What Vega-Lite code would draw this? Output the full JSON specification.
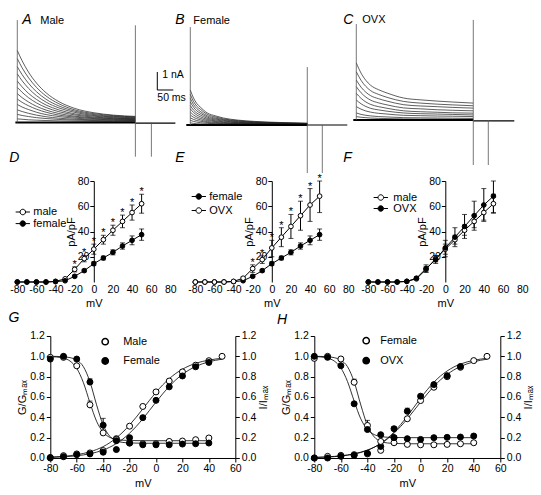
{
"$schema":"https://vega.github.io/schema/vega-lite/v6.json",
"padding":{"left":8.3,"top":5,"right":0,"bottom":0},
"autosize":{"type":"pad"},
"background":"white",
"config":{
 "view":{"stroke":null},
 "font":"Liberation Sans",
 "text":{"font":"Liberation Sans","color":"black"},
 "axis":{"labelFont":"Liberation Sans","titleFont":"Liberation Sans","labelFontSize":10.5,"titleFontSize":11,"titleFontWeight":"normal","labelColor":"black","titleColor":"black","domainColor":"black","tickColor":"black","grid":false,"domainWidth":1,"tickWidth":1,"labelOverlap":false,"labelFlush":false,"labelBound":false,"tickCount":50},
 "legend":{"labelFont":"Liberation Sans","labelFontSize":11,"labelColor":"black","padding":0,"offset":0}
},
"datasets":{
"tr":[
{"p":"A","k":1,"t":0,"v":4.0},{"p":"A","k":1,"t":15,"v":3.43},{"p":"A","k":1,"t":35,"v":2.8},{"p":"A","k":1,"t":60,"v":2.19},{"p":"A","k":1,"t":90,"v":1.65},{"p":"A","k":1,"t":130,"v":1.16},{"p":"A","k":1,"t":180,"v":0.78},{"p":"A","k":1,"t":240,"v":0.54},{"p":"A","k":1,"t":300,"v":0.41},{"p":"A","k":1,"t":369,"v":0.34},
{"p":"A","k":2,"t":0,"v":3.55},{"p":"A","k":2,"t":15,"v":3.04},{"p":"A","k":2,"t":35,"v":2.49},{"p":"A","k":2,"t":60,"v":1.95},{"p":"A","k":2,"t":90,"v":1.47},{"p":"A","k":2,"t":130,"v":1.04},{"p":"A","k":2,"t":180,"v":0.7},{"p":"A","k":2,"t":240,"v":0.49},{"p":"A","k":2,"t":300,"v":0.38},{"p":"A","k":2,"t":369,"v":0.31},
{"p":"A","k":3,"t":0,"v":3.1},{"p":"A","k":3,"t":15,"v":2.66},{"p":"A","k":3,"t":35,"v":2.18},{"p":"A","k":3,"t":60,"v":1.71},{"p":"A","k":3,"t":90,"v":1.29},{"p":"A","k":3,"t":130,"v":0.92},{"p":"A","k":3,"t":180,"v":0.63},{"p":"A","k":3,"t":240,"v":0.44},{"p":"A","k":3,"t":300,"v":0.34},{"p":"A","k":3,"t":369,"v":0.29},
{"p":"A","k":4,"t":0,"v":2.7},{"p":"A","k":4,"t":15,"v":2.32},{"p":"A","k":4,"t":35,"v":1.9},{"p":"A","k":4,"t":60,"v":1.49},{"p":"A","k":4,"t":90,"v":1.13},{"p":"A","k":4,"t":130,"v":0.81},{"p":"A","k":4,"t":180,"v":0.56},{"p":"A","k":4,"t":240,"v":0.39},{"p":"A","k":4,"t":300,"v":0.31},{"p":"A","k":4,"t":369,"v":0.26},
{"p":"A","k":5,"t":0,"v":2.3},{"p":"A","k":5,"t":15,"v":1.98},{"p":"A","k":5,"t":35,"v":1.62},{"p":"A","k":5,"t":60,"v":1.28},{"p":"A","k":5,"t":90,"v":0.97},{"p":"A","k":5,"t":130,"v":0.7},{"p":"A","k":5,"t":180,"v":0.48},{"p":"A","k":5,"t":240,"v":0.35},{"p":"A","k":5,"t":300,"v":0.27},{"p":"A","k":5,"t":369,"v":0.23},
{"p":"A","k":6,"t":0,"v":1.95},{"p":"A","k":6,"t":15,"v":1.68},{"p":"A","k":6,"t":35,"v":1.38},{"p":"A","k":6,"t":60,"v":1.09},{"p":"A","k":6,"t":90,"v":0.83},{"p":"A","k":6,"t":130,"v":0.6},{"p":"A","k":6,"t":180,"v":0.42},{"p":"A","k":6,"t":240,"v":0.3},{"p":"A","k":6,"t":300,"v":0.24},{"p":"A","k":6,"t":369,"v":0.21},
{"p":"A","k":7,"t":0,"v":1.6},{"p":"A","k":7,"t":15,"v":1.38},{"p":"A","k":7,"t":35,"v":1.14},{"p":"A","k":7,"t":60,"v":0.9},{"p":"A","k":7,"t":90,"v":0.69},{"p":"A","k":7,"t":130,"v":0.5},{"p":"A","k":7,"t":180,"v":0.35},{"p":"A","k":7,"t":240,"v":0.26},{"p":"A","k":7,"t":300,"v":0.21},{"p":"A","k":7,"t":369,"v":0.18},
{"p":"A","k":8,"t":0,"v":1.3},{"p":"A","k":8,"t":15,"v":1.12},{"p":"A","k":8,"t":35,"v":0.93},{"p":"A","k":8,"t":60,"v":0.74},{"p":"A","k":8,"t":90,"v":0.57},{"p":"A","k":8,"t":130,"v":0.41},{"p":"A","k":8,"t":180,"v":0.3},{"p":"A","k":8,"t":240,"v":0.22},{"p":"A","k":8,"t":300,"v":0.18},{"p":"A","k":8,"t":369,"v":0.16},
{"p":"A","k":9,"t":0,"v":1.0},{"p":"A","k":9,"t":15,"v":0.86},{"p":"A","k":9,"t":35,"v":0.72},{"p":"A","k":9,"t":60,"v":0.57},{"p":"A","k":9,"t":90,"v":0.44},{"p":"A","k":9,"t":130,"v":0.33},{"p":"A","k":9,"t":180,"v":0.24},{"p":"A","k":9,"t":240,"v":0.18},{"p":"A","k":9,"t":300,"v":0.15},{"p":"A","k":9,"t":369,"v":0.13},
{"p":"A","k":10,"t":0,"v":0.7},{"p":"A","k":10,"t":15,"v":0.61},{"p":"A","k":10,"t":35,"v":0.51},{"p":"A","k":10,"t":60,"v":0.41},{"p":"A","k":10,"t":90,"v":0.32},{"p":"A","k":10,"t":130,"v":0.24},{"p":"A","k":10,"t":180,"v":0.18},{"p":"A","k":10,"t":240,"v":0.14},{"p":"A","k":10,"t":300,"v":0.12},{"p":"A","k":10,"t":369,"v":0.11},
{"p":"A","k":11,"t":0,"v":0.45},{"p":"A","k":11,"t":15,"v":0.39},{"p":"A","k":11,"t":35,"v":0.33},{"p":"A","k":11,"t":60,"v":0.27},{"p":"A","k":11,"t":90,"v":0.22},{"p":"A","k":11,"t":130,"v":0.17},{"p":"A","k":11,"t":180,"v":0.13},{"p":"A","k":11,"t":240,"v":0.11},{"p":"A","k":11,"t":300,"v":0.09},{"p":"A","k":11,"t":369,"v":0.09},
{"p":"A","k":12,"t":0,"v":0.2},{"p":"A","k":12,"t":15,"v":0.18},{"p":"A","k":12,"t":35,"v":0.15},{"p":"A","k":12,"t":60,"v":0.13},{"p":"A","k":12,"t":90,"v":0.11},{"p":"A","k":12,"t":130,"v":0.09},{"p":"A","k":12,"t":180,"v":0.07},{"p":"A","k":12,"t":240,"v":0.06},{"p":"A","k":12,"t":300,"v":0.05},{"p":"A","k":12,"t":369,"v":0.05},
{"p":"B","k":1,"t":0,"v":1.94},{"p":"B","k":1,"t":10,"v":1.5},{"p":"B","k":1,"t":20,"v":1.2},{"p":"B","k":1,"t":31,"v":1.0},{"p":"B","k":1,"t":53,"v":0.67},{"p":"B","k":1,"t":80,"v":0.5},{"p":"B","k":1,"t":103,"v":0.39},{"p":"B","k":1,"t":150,"v":0.27},{"p":"B","k":1,"t":200,"v":0.2},{"p":"B","k":1,"t":280,"v":0.14},{"p":"B","k":1,"t":366,"v":0.1},
{"p":"B","k":2,"t":0,"v":1.7},{"p":"B","k":2,"t":10,"v":1.31},{"p":"B","k":2,"t":20,"v":1.05},{"p":"B","k":2,"t":31,"v":0.88},{"p":"B","k":2,"t":53,"v":0.59},{"p":"B","k":2,"t":80,"v":0.44},{"p":"B","k":2,"t":103,"v":0.34},{"p":"B","k":2,"t":150,"v":0.24},{"p":"B","k":2,"t":200,"v":0.18},{"p":"B","k":2,"t":280,"v":0.12},{"p":"B","k":2,"t":366,"v":0.09},
{"p":"B","k":3,"t":0,"v":1.48},{"p":"B","k":3,"t":10,"v":1.14},{"p":"B","k":3,"t":20,"v":0.92},{"p":"B","k":3,"t":31,"v":0.76},{"p":"B","k":3,"t":53,"v":0.51},{"p":"B","k":3,"t":80,"v":0.38},{"p":"B","k":3,"t":103,"v":0.3},{"p":"B","k":3,"t":150,"v":0.21},{"p":"B","k":3,"t":200,"v":0.15},{"p":"B","k":3,"t":280,"v":0.11},{"p":"B","k":3,"t":366,"v":0.08},
{"p":"B","k":4,"t":0,"v":1.28},{"p":"B","k":4,"t":10,"v":0.99},{"p":"B","k":4,"t":20,"v":0.79},{"p":"B","k":4,"t":31,"v":0.66},{"p":"B","k":4,"t":53,"v":0.44},{"p":"B","k":4,"t":80,"v":0.33},{"p":"B","k":4,"t":103,"v":0.26},{"p":"B","k":4,"t":150,"v":0.18},{"p":"B","k":4,"t":200,"v":0.13},{"p":"B","k":4,"t":280,"v":0.09},{"p":"B","k":4,"t":366,"v":0.07},
{"p":"B","k":5,"t":0,"v":1.08},{"p":"B","k":5,"t":10,"v":0.83},{"p":"B","k":5,"t":20,"v":0.67},{"p":"B","k":5,"t":31,"v":0.56},{"p":"B","k":5,"t":53,"v":0.37},{"p":"B","k":5,"t":80,"v":0.28},{"p":"B","k":5,"t":103,"v":0.22},{"p":"B","k":5,"t":150,"v":0.15},{"p":"B","k":5,"t":200,"v":0.11},{"p":"B","k":5,"t":280,"v":0.08},{"p":"B","k":5,"t":366,"v":0.06},
{"p":"B","k":6,"t":0,"v":0.9},{"p":"B","k":6,"t":10,"v":0.7},{"p":"B","k":6,"t":20,"v":0.56},{"p":"B","k":6,"t":31,"v":0.46},{"p":"B","k":6,"t":53,"v":0.31},{"p":"B","k":6,"t":80,"v":0.23},{"p":"B","k":6,"t":103,"v":0.18},{"p":"B","k":6,"t":150,"v":0.13},{"p":"B","k":6,"t":200,"v":0.09},{"p":"B","k":6,"t":280,"v":0.06},{"p":"B","k":6,"t":366,"v":0.05},
{"p":"B","k":7,"t":0,"v":0.72},{"p":"B","k":7,"t":10,"v":0.56},{"p":"B","k":7,"t":20,"v":0.45},{"p":"B","k":7,"t":31,"v":0.37},{"p":"B","k":7,"t":53,"v":0.25},{"p":"B","k":7,"t":80,"v":0.19},{"p":"B","k":7,"t":103,"v":0.14},{"p":"B","k":7,"t":150,"v":0.1},{"p":"B","k":7,"t":200,"v":0.07},{"p":"B","k":7,"t":280,"v":0.05},{"p":"B","k":7,"t":366,"v":0.04},
{"p":"B","k":8,"t":0,"v":0.56},{"p":"B","k":8,"t":10,"v":0.43},{"p":"B","k":8,"t":20,"v":0.35},{"p":"B","k":8,"t":31,"v":0.29},{"p":"B","k":8,"t":53,"v":0.19},{"p":"B","k":8,"t":80,"v":0.14},{"p":"B","k":8,"t":103,"v":0.11},{"p":"B","k":8,"t":150,"v":0.08},{"p":"B","k":8,"t":200,"v":0.06},{"p":"B","k":8,"t":280,"v":0.04},{"p":"B","k":8,"t":366,"v":0.03},
{"p":"B","k":9,"t":0,"v":0.4},{"p":"B","k":9,"t":10,"v":0.31},{"p":"B","k":9,"t":20,"v":0.25},{"p":"B","k":9,"t":31,"v":0.21},{"p":"B","k":9,"t":53,"v":0.14},{"p":"B","k":9,"t":80,"v":0.1},{"p":"B","k":9,"t":103,"v":0.08},{"p":"B","k":9,"t":150,"v":0.06},{"p":"B","k":9,"t":200,"v":0.04},{"p":"B","k":9,"t":280,"v":0.03},{"p":"B","k":9,"t":366,"v":0.02},
{"p":"B","k":10,"t":0,"v":0.26},{"p":"B","k":10,"t":10,"v":0.2},{"p":"B","k":10,"t":20,"v":0.16},{"p":"B","k":10,"t":31,"v":0.13},{"p":"B","k":10,"t":53,"v":0.09},{"p":"B","k":10,"t":80,"v":0.07},{"p":"B","k":10,"t":103,"v":0.05},{"p":"B","k":10,"t":150,"v":0.04},{"p":"B","k":10,"t":200,"v":0.03},{"p":"B","k":10,"t":280,"v":0.02},{"p":"B","k":10,"t":366,"v":0.01},
{"p":"B","k":11,"t":0,"v":0.12},{"p":"B","k":11,"t":10,"v":0.09},{"p":"B","k":11,"t":20,"v":0.07},{"p":"B","k":11,"t":31,"v":0.06},{"p":"B","k":11,"t":53,"v":0.04},{"p":"B","k":11,"t":80,"v":0.03},{"p":"B","k":11,"t":103,"v":0.02},{"p":"B","k":11,"t":150,"v":0.02},{"p":"B","k":11,"t":200,"v":0.01},{"p":"B","k":11,"t":280,"v":0.01},{"p":"B","k":11,"t":366,"v":0.01},
{"p":"C","k":1,"t":0,"v":3.17},{"p":"C","k":1,"t":15,"v":2.6},{"p":"C","k":1,"t":30,"v":2.2},{"p":"C","k":1,"t":44,"v":1.94},{"p":"C","k":1,"t":70,"v":1.68},{"p":"C","k":1,"t":96,"v":1.5},{"p":"C","k":1,"t":148,"v":1.22},{"p":"C","k":1,"t":200,"v":1.12},{"p":"C","k":1,"t":253,"v":1.05},{"p":"C","k":1,"t":300,"v":1.0},{"p":"C","k":1,"t":365,"v":0.94},
{"p":"C","k":2,"t":0,"v":2.68},{"p":"C","k":2,"t":15,"v":2.2},{"p":"C","k":2,"t":30,"v":1.86},{"p":"C","k":2,"t":44,"v":1.64},{"p":"C","k":2,"t":70,"v":1.42},{"p":"C","k":2,"t":96,"v":1.26},{"p":"C","k":2,"t":148,"v":1.03},{"p":"C","k":2,"t":200,"v":0.94},{"p":"C","k":2,"t":253,"v":0.88},{"p":"C","k":2,"t":300,"v":0.84},{"p":"C","k":2,"t":365,"v":0.79},
{"p":"C","k":3,"t":0,"v":2.22},{"p":"C","k":3,"t":15,"v":1.82},{"p":"C","k":3,"t":30,"v":1.54},{"p":"C","k":3,"t":44,"v":1.36},{"p":"C","k":3,"t":70,"v":1.18},{"p":"C","k":3,"t":96,"v":1.05},{"p":"C","k":3,"t":148,"v":0.85},{"p":"C","k":3,"t":200,"v":0.78},{"p":"C","k":3,"t":253,"v":0.74},{"p":"C","k":3,"t":300,"v":0.7},{"p":"C","k":3,"t":365,"v":0.66},
{"p":"C","k":4,"t":0,"v":1.85},{"p":"C","k":4,"t":15,"v":1.51},{"p":"C","k":4,"t":30,"v":1.27},{"p":"C","k":4,"t":44,"v":1.11},{"p":"C","k":4,"t":70,"v":0.95},{"p":"C","k":4,"t":96,"v":0.84},{"p":"C","k":4,"t":148,"v":0.67},{"p":"C","k":4,"t":200,"v":0.62},{"p":"C","k":4,"t":253,"v":0.57},{"p":"C","k":4,"t":300,"v":0.54},{"p":"C","k":4,"t":365,"v":0.51},
{"p":"C","k":5,"t":0,"v":1.48},{"p":"C","k":5,"t":15,"v":1.2},{"p":"C","k":5,"t":30,"v":1.0},{"p":"C","k":5,"t":44,"v":0.87},{"p":"C","k":5,"t":70,"v":0.74},{"p":"C","k":5,"t":96,"v":0.65},{"p":"C","k":5,"t":148,"v":0.51},{"p":"C","k":5,"t":200,"v":0.46},{"p":"C","k":5,"t":253,"v":0.43},{"p":"C","k":5,"t":300,"v":0.4},{"p":"C","k":5,"t":365,"v":0.38},
{"p":"C","k":6,"t":0,"v":1.11},{"p":"C","k":6,"t":15,"v":0.9},{"p":"C","k":6,"t":30,"v":0.75},{"p":"C","k":6,"t":44,"v":0.65},{"p":"C","k":6,"t":70,"v":0.56},{"p":"C","k":6,"t":96,"v":0.49},{"p":"C","k":6,"t":148,"v":0.39},{"p":"C","k":6,"t":200,"v":0.35},{"p":"C","k":6,"t":253,"v":0.33},{"p":"C","k":6,"t":300,"v":0.31},{"p":"C","k":6,"t":365,"v":0.28},
{"p":"C","k":7,"t":0,"v":0.74},{"p":"C","k":7,"t":15,"v":0.6},{"p":"C","k":7,"t":30,"v":0.5},{"p":"C","k":7,"t":44,"v":0.44},{"p":"C","k":7,"t":70,"v":0.37},{"p":"C","k":7,"t":96,"v":0.33},{"p":"C","k":7,"t":148,"v":0.26},{"p":"C","k":7,"t":200,"v":0.24},{"p":"C","k":7,"t":253,"v":0.22},{"p":"C","k":7,"t":300,"v":0.21},{"p":"C","k":7,"t":365,"v":0.19},
{"p":"C","k":8,"t":0,"v":0.39},{"p":"C","k":8,"t":15,"v":0.31},{"p":"C","k":8,"t":30,"v":0.26},{"p":"C","k":8,"t":44,"v":0.23},{"p":"C","k":8,"t":70,"v":0.19},{"p":"C","k":8,"t":96,"v":0.17},{"p":"C","k":8,"t":148,"v":0.13},{"p":"C","k":8,"t":200,"v":0.12},{"p":"C","k":8,"t":253,"v":0.11},{"p":"C","k":8,"t":300,"v":0.1},{"p":"C","k":8,"t":365,"v":0.09},
{"p":"C","k":9,"t":0,"v":0.19},{"p":"C","k":9,"t":15,"v":0.15},{"p":"C","k":9,"t":30,"v":0.13},{"p":"C","k":9,"t":44,"v":0.11},{"p":"C","k":9,"t":70,"v":0.09},{"p":"C","k":9,"t":96,"v":0.08},{"p":"C","k":9,"t":148,"v":0.06},{"p":"C","k":9,"t":200,"v":0.05},{"p":"C","k":9,"t":253,"v":0.05},{"p":"C","k":9,"t":300,"v":0.04},{"p":"C","k":9,"t":365,"v":0.04}
],
"seg":[
{"p":"A","kd":"b","t":-6,"t2":369,"v":0,"v2":0},
{"p":"A","kd":"p","t":369,"t2":494,"v":-0.03,"v2":-0.03},
{"p":"A","kd":"s","t":0,"t2":0,"v":0,"v2":5.69},
{"p":"A","kd":"s","t":369,"t2":369,"v":-1.9,"v2":5.4},
{"p":"A","kd":"s","t":419,"t2":419,"v":-1.9,"v2":0},
{"p":"A","kd":"sb","t":437.5,"t2":437.5,"v":1.806,"v2":2.806},
{"p":"A","kd":"sb","t":437.5,"t2":487.5,"v":1.806,"v2":1.806},
{"p":"B","kd":"b","t":-12.5,"t2":365.6,"v":0,"v2":0},
{"p":"B","kd":"p","t":365.6,"t2":490.6,"v":0,"v2":0},
{"p":"B","kd":"s","t":0,"t2":0,"v":0,"v2":5.44},
{"p":"B","kd":"s","t":365.6,"t2":365.6,"v":-2.67,"v2":3.22},
{"p":"B","kd":"s","t":412.5,"t2":412.5,"v":-2.67,"v2":0},
{"p":"C","kd":"b","t":-9.4,"t2":365.6,"v":0,"v2":0},
{"p":"C","kd":"p","t":365.6,"t2":493.75,"v":-0.05,"v2":-0.05},
{"p":"C","kd":"s","t":0,"t2":0,"v":0,"v2":5.33},
{"p":"C","kd":"s","t":365.6,"t2":365.6,"v":-2.5,"v2":5.56},
{"p":"C","kd":"s","t":412.5,"t2":412.5,"v":-2.5,"v2":0}
],
"iv":[
{"pn":"D","s":"male","x":-80,"y":0},{"pn":"D","s":"male","x":-70,"y":0},{"pn":"D","s":"male","x":-60,"y":0},{"pn":"D","s":"male","x":-50,"y":0},{"pn":"D","s":"male","x":-40,"y":0.5},{"pn":"D","s":"male","x":-30,"y":2.5},{"pn":"D","s":"male","x":-20,"y":10,"lo":8,"hi":12,"st":1},{"pn":"D","s":"male","x":-10,"y":18.5,"lo":16,"hi":21,"st":1},{"pn":"D","s":"male","x":0,"y":26,"lo":22,"hi":30,"st":1},{"pn":"D","s":"male","x":10,"y":33.5,"lo":30,"hi":37,"st":1},{"pn":"D","s":"male","x":20,"y":41,"lo":37,"hi":45,"st":1},{"pn":"D","s":"male","x":30,"y":48,"lo":43,"hi":53,"st":1},{"pn":"D","s":"male","x":40,"y":55,"lo":49,"hi":61,"st":1},{"pn":"D","s":"male","x":50,"y":62,"lo":54.5,"hi":69.5,"st":1},
{"pn":"D","s":"female","x":-80,"y":0},{"pn":"D","s":"female","x":-70,"y":0},{"pn":"D","s":"female","x":-60,"y":0},{"pn":"D","s":"female","x":-50,"y":0},{"pn":"D","s":"female","x":-40,"y":0.3},{"pn":"D","s":"female","x":-30,"y":1},{"pn":"D","s":"female","x":-20,"y":4.5,"lo":3.5,"hi":5.5},{"pn":"D","s":"female","x":-10,"y":9,"lo":8,"hi":10},{"pn":"D","s":"female","x":0,"y":14.5,"lo":13,"hi":16},{"pn":"D","s":"female","x":10,"y":19,"lo":17.5,"hi":20.5},{"pn":"D","s":"female","x":20,"y":23.5,"lo":21.5,"hi":25.5},{"pn":"D","s":"female","x":30,"y":28.5,"lo":26,"hi":31},{"pn":"D","s":"female","x":40,"y":33,"lo":29.5,"hi":36.5},{"pn":"D","s":"female","x":50,"y":37.5,"lo":33,"hi":42},
{"pn":"E","s":"female","x":-80,"y":0},{"pn":"E","s":"female","x":-70,"y":0},{"pn":"E","s":"female","x":-60,"y":0},{"pn":"E","s":"female","x":-50,"y":0},{"pn":"E","s":"female","x":-40,"y":0.3},{"pn":"E","s":"female","x":-30,"y":1},{"pn":"E","s":"female","x":-20,"y":4.5,"lo":3.5,"hi":5.5},{"pn":"E","s":"female","x":-10,"y":9,"lo":8,"hi":10},{"pn":"E","s":"female","x":0,"y":14.5,"lo":13,"hi":16},{"pn":"E","s":"female","x":10,"y":19,"lo":17.5,"hi":20.5},{"pn":"E","s":"female","x":20,"y":23.5,"lo":21.5,"hi":25.5},{"pn":"E","s":"female","x":30,"y":28.5,"lo":26,"hi":31},{"pn":"E","s":"female","x":40,"y":33,"lo":29.5,"hi":36.5},{"pn":"E","s":"female","x":50,"y":37.5,"lo":33,"hi":42},
{"pn":"E","s":"OVX","x":-80,"y":0},{"pn":"E","s":"OVX","x":-70,"y":0},{"pn":"E","s":"OVX","x":-60,"y":0},{"pn":"E","s":"OVX","x":-50,"y":0},{"pn":"E","s":"OVX","x":-40,"y":0.5},{"pn":"E","s":"OVX","x":-30,"y":3,"lo":2,"hi":4},{"pn":"E","s":"OVX","x":-20,"y":10.6,"lo":7.6,"hi":13.6,"st":1},{"pn":"E","s":"OVX","x":-10,"y":17.7,"lo":14.7,"hi":20.7,"st":1},{"pn":"E","s":"OVX","x":0,"y":27,"lo":20,"hi":33,"st":1},{"pn":"E","s":"OVX","x":10,"y":35.5,"lo":28,"hi":43,"st":1},{"pn":"E","s":"OVX","x":20,"y":44,"lo":34.5,"hi":53.5,"st":1},{"pn":"E","s":"OVX","x":30,"y":52.5,"lo":41,"hi":64,"st":1},{"pn":"E","s":"OVX","x":40,"y":61,"lo":48,"hi":74,"st":1},{"pn":"E","s":"OVX","x":50,"y":68,"lo":55,"hi":80,"st":1},
{"pn":"F","s":"male","x":-80,"y":0},{"pn":"F","s":"male","x":-70,"y":0},{"pn":"F","s":"male","x":-60,"y":0},{"pn":"F","s":"male","x":-50,"y":0},{"pn":"F","s":"male","x":-40,"y":0.5},{"pn":"F","s":"male","x":-30,"y":2.5},{"pn":"F","s":"male","x":-20,"y":10,"lo":8,"hi":12},{"pn":"F","s":"male","x":-10,"y":18.5,"lo":16,"hi":21},{"pn":"F","s":"male","x":0,"y":26,"lo":22,"hi":30},{"pn":"F","s":"male","x":10,"y":33.5,"lo":30,"hi":37},{"pn":"F","s":"male","x":20,"y":41,"lo":37,"hi":45},{"pn":"F","s":"male","x":30,"y":48,"lo":43,"hi":53},{"pn":"F","s":"male","x":40,"y":55,"lo":49,"hi":61},{"pn":"F","s":"male","x":50,"y":62,"lo":54.5,"hi":69.5},
{"pn":"F","s":"OVX","x":-80,"y":0},{"pn":"F","s":"OVX","x":-70,"y":0},{"pn":"F","s":"OVX","x":-60,"y":0},{"pn":"F","s":"OVX","x":-50,"y":0},{"pn":"F","s":"OVX","x":-40,"y":0.5},{"pn":"F","s":"OVX","x":-30,"y":3,"lo":2,"hi":4},{"pn":"F","s":"OVX","x":-20,"y":10.6,"lo":7.6,"hi":13.6},{"pn":"F","s":"OVX","x":-10,"y":17.7,"lo":14.7,"hi":20.7},{"pn":"F","s":"OVX","x":0,"y":27,"lo":20,"hi":33},{"pn":"F","s":"OVX","x":10,"y":35.5,"lo":28,"hi":43},{"pn":"F","s":"OVX","x":20,"y":44,"lo":34.5,"hi":53.5},{"pn":"F","s":"OVX","x":30,"y":52.5,"lo":41,"hi":64},{"pn":"F","s":"OVX","x":40,"y":61,"lo":48,"hi":74},{"pn":"F","s":"OVX","x":50,"y":68,"lo":55,"hi":80}
],
"gh":[
{"g":"G","s":"Male","c":"a","x":-80,"y":0},{"g":"G","s":"Male","c":"a","x":-70,"y":0.023},{"g":"G","s":"Male","c":"a","x":-60,"y":0.04},{"g":"G","s":"Male","c":"a","x":-50,"y":0.05},{"g":"G","s":"Male","c":"a","x":-40,"y":0.073},{"g":"G","s":"Male","c":"a","x":-30,"y":0.19},{"g":"G","s":"Male","c":"a","x":-20,"y":0.313},{"g":"G","s":"Male","c":"a","x":-10,"y":0.507},{"g":"G","s":"Male","c":"a","x":0,"y":0.65},{"g":"G","s":"Male","c":"a","x":10,"y":0.757},{"g":"G","s":"Male","c":"a","x":20,"y":0.847},{"g":"G","s":"Male","c":"a","x":30,"y":0.913},{"g":"G","s":"Male","c":"a","x":40,"y":0.957},{"g":"G","s":"Male","c":"a","x":50,"y":1.0},
{"g":"G","s":"Female","c":"a","x":-80,"y":0.005},{"g":"G","s":"Female","c":"a","x":-70,"y":0.013},{"g":"G","s":"Female","c":"a","x":-60,"y":0.033},{"g":"G","s":"Female","c":"a","x":-50,"y":0.04},{"g":"G","s":"Female","c":"a","x":-40,"y":0.057},{"g":"G","s":"Female","c":"a","x":-30,"y":0.083},{"g":"G","s":"Female","c":"a","x":-20,"y":0.2},{"g":"G","s":"Female","c":"a","x":-10,"y":0.397},{"g":"G","s":"Female","c":"a","x":0,"y":0.567},{"g":"G","s":"Female","c":"a","x":10,"y":0.7},{"g":"G","s":"Female","c":"a","x":20,"y":0.807},{"g":"G","s":"Female","c":"a","x":30,"y":0.897},{"g":"G","s":"Female","c":"a","x":40,"y":0.94},
{"g":"G","s":"Male","c":"i","x":-80,"y":0.99},{"g":"G","s":"Male","c":"i","x":-70,"y":0.99},{"g":"G","s":"Male","c":"i","x":-60,"y":0.907},{"g":"G","s":"Male","c":"i","x":-50,"y":0.523,"lo":0.49,"hi":0.56},{"g":"G","s":"Male","c":"i","x":-40,"y":0.247},{"g":"G","s":"Male","c":"i","x":-30,"y":0.183},{"g":"G","s":"Male","c":"i","x":-20,"y":0.147},{"g":"G","s":"Male","c":"i","x":-10,"y":0.14},{"g":"G","s":"Male","c":"i","x":0,"y":0.14},{"g":"G","s":"Male","c":"i","x":10,"y":0.163},{"g":"G","s":"Male","c":"i","x":20,"y":0.167},{"g":"G","s":"Male","c":"i","x":30,"y":0.18},{"g":"G","s":"Male","c":"i","x":40,"y":0.197},
{"g":"G","s":"Female","c":"i","x":-80,"y":0.973},{"g":"G","s":"Female","c":"i","x":-70,"y":1.0},{"g":"G","s":"Female","c":"i","x":-60,"y":0.973},{"g":"G","s":"Female","c":"i","x":-50,"y":0.747,"lo":0.72,"hi":0.78},{"g":"G","s":"Female","c":"i","x":-40,"y":0.323,"lo":0.27,"hi":0.39},{"g":"G","s":"Female","c":"i","x":-30,"y":0.17},{"g":"G","s":"Female","c":"i","x":-20,"y":0.147},{"g":"G","s":"Female","c":"i","x":-10,"y":0.13},{"g":"G","s":"Female","c":"i","x":0,"y":0.13},{"g":"G","s":"Female","c":"i","x":10,"y":0.13},{"g":"G","s":"Female","c":"i","x":20,"y":0.137},{"g":"G","s":"Female","c":"i","x":30,"y":0.14},{"g":"G","s":"Female","c":"i","x":40,"y":0.147},
{"g":"H","s":"Female","c":"a","x":-80,"y":0},{"g":"H","s":"Female","c":"a","x":-70,"y":0.016},{"g":"H","s":"Female","c":"a","x":-60,"y":0.026},{"g":"H","s":"Female","c":"a","x":-50,"y":0.033},{"g":"H","s":"Female","c":"a","x":-40,"y":0.04},{"g":"H","s":"Female","c":"a","x":-30,"y":0.075},{"g":"H","s":"Female","c":"a","x":-20,"y":0.2},{"g":"H","s":"Female","c":"a","x":-10,"y":0.386},{"g":"H","s":"Female","c":"a","x":0,"y":0.565},{"g":"H","s":"Female","c":"a","x":10,"y":0.696},{"g":"H","s":"Female","c":"a","x":20,"y":0.8},{"g":"H","s":"Female","c":"a","x":30,"y":0.892},{"g":"H","s":"Female","c":"a","x":40,"y":0.958},{"g":"H","s":"Female","c":"a","x":50,"y":1.0},
{"g":"H","s":"OVX","c":"a","x":-80,"y":0},{"g":"H","s":"OVX","c":"a","x":-70,"y":0},{"g":"H","s":"OVX","c":"a","x":-60,"y":0.016},{"g":"H","s":"OVX","c":"a","x":-50,"y":0.026},{"g":"H","s":"OVX","c":"a","x":-40,"y":0.046},{"g":"H","s":"OVX","c":"a","x":-30,"y":0.114},{"g":"H","s":"OVX","c":"a","x":-20,"y":0.288,"lo":0.27,"hi":0.31},{"g":"H","s":"OVX","c":"a","x":-10,"y":0.46,"lo":0.43,"hi":0.49},{"g":"H","s":"OVX","c":"a","x":0,"y":0.608},{"g":"H","s":"OVX","c":"a","x":10,"y":0.722},{"g":"H","s":"OVX","c":"a","x":20,"y":0.81},{"g":"H","s":"OVX","c":"a","x":30,"y":0.9},
{"g":"H","s":"Female","c":"i","x":-80,"y":0.98},{"g":"H","s":"Female","c":"i","x":-70,"y":1.0},{"g":"H","s":"Female","c":"i","x":-60,"y":0.974},{"g":"H","s":"Female","c":"i","x":-50,"y":0.745,"lo":0.715,"hi":0.775},{"g":"H","s":"Female","c":"i","x":-40,"y":0.32,"lo":0.29,"hi":0.37},{"g":"H","s":"Female","c":"i","x":-30,"y":0.163},{"g":"H","s":"Female","c":"i","x":-20,"y":0.15},{"g":"H","s":"Female","c":"i","x":-10,"y":0.134},{"g":"H","s":"Female","c":"i","x":0,"y":0.13},{"g":"H","s":"Female","c":"i","x":10,"y":0.13},{"g":"H","s":"Female","c":"i","x":20,"y":0.134},{"g":"H","s":"Female","c":"i","x":30,"y":0.14},{"g":"H","s":"Female","c":"i","x":40,"y":0.15},
{"g":"H","s":"OVX","c":"i","x":-80,"y":1.0},{"g":"H","s":"OVX","c":"i","x":-70,"y":0.99},{"g":"H","s":"OVX","c":"i","x":-60,"y":0.908},{"g":"H","s":"OVX","c":"i","x":-50,"y":0.533},{"g":"H","s":"OVX","c":"i","x":-40,"y":0.28},{"g":"H","s":"OVX","c":"i","x":-30,"y":0.229},{"g":"H","s":"OVX","c":"i","x":-20,"y":0.2},{"g":"H","s":"OVX","c":"i","x":-10,"y":0.19},{"g":"H","s":"OVX","c":"i","x":0,"y":0.183},{"g":"H","s":"OVX","c":"i","x":10,"y":0.2},{"g":"H","s":"OVX","c":"i","x":20,"y":0.203},{"g":"H","s":"OVX","c":"i","x":30,"y":0.206},{"g":"H","s":"OVX","c":"i","x":40,"y":0.216}
],
"fit":[
{"g":"G","s":"Male","c":"a","x":-80,"y":0.0087},{"g":"G","s":"Male","c":"a","x":-70,"y":0.0168},{"g":"G","s":"Male","c":"a","x":-60,"y":0.0323},{"g":"G","s":"Male","c":"a","x":-50,"y":0.061},{"g":"G","s":"Male","c":"a","x":-40,"y":0.112},{"g":"G","s":"Male","c":"a","x":-35,"y":0.15},{"g":"G","s":"Male","c":"a","x":-30,"y":0.198},{"g":"G","s":"Male","c":"a","x":-25,"y":0.256},{"g":"G","s":"Male","c":"a","x":-20,"y":0.325},{"g":"G","s":"Male","c":"a","x":-15,"y":0.401},{"g":"G","s":"Male","c":"a","x":-10,"y":0.483},{"g":"G","s":"Male","c":"a","x":-5,"y":0.566},{"g":"G","s":"Male","c":"a","x":0,"y":0.646},{"g":"G","s":"Male","c":"a","x":5,"y":0.718},{"g":"G","s":"Male","c":"a","x":10,"y":0.78},{"g":"G","s":"Male","c":"a","x":15,"y":0.832},{"g":"G","s":"Male","c":"a","x":20,"y":0.873},{"g":"G","s":"Male","c":"a","x":25,"y":0.906},{"g":"G","s":"Male","c":"a","x":30,"y":0.931},{"g":"G","s":"Male","c":"a","x":40,"y":0.963},{"g":"G","s":"Male","c":"a","x":50,"y":0.981},
{"g":"G","s":"Female","c":"a","x":-80,"y":0.0059},{"g":"G","s":"Female","c":"a","x":-70,"y":0.0114},{"g":"G","s":"Female","c":"a","x":-60,"y":0.0219},{"g":"G","s":"Female","c":"a","x":-50,"y":0.0418},{"g":"G","s":"Female","c":"a","x":-40,"y":0.078},{"g":"G","s":"Female","c":"a","x":-35,"y":0.106},{"g":"G","s":"Female","c":"a","x":-30,"y":0.142},{"g":"G","s":"Female","c":"a","x":-25,"y":0.187},{"g":"G","s":"Female","c":"a","x":-20,"y":0.244},{"g":"G","s":"Female","c":"a","x":-15,"y":0.31},{"g":"G","s":"Female","c":"a","x":-10,"y":0.385},{"g":"G","s":"Female","c":"a","x":-5,"y":0.467},{"g":"G","s":"Female","c":"a","x":0,"y":0.55},{"g":"G","s":"Female","c":"a","x":5,"y":0.63},{"g":"G","s":"Female","c":"a","x":10,"y":0.704},{"g":"G","s":"Female","c":"a","x":15,"y":0.769},{"g":"G","s":"Female","c":"a","x":20,"y":0.822},{"g":"G","s":"Female","c":"a","x":25,"y":0.866},{"g":"G","s":"Female","c":"a","x":30,"y":0.9},{"g":"G","s":"Female","c":"a","x":40,"y":0.946},{"g":"G","s":"Female","c":"a","x":50,"y":0.972},
{"g":"G","s":"Male","c":"i","x":-80,"y":0.997},{"g":"G","s":"Male","c":"i","x":-75,"y":0.993},{"g":"G","s":"Male","c":"i","x":-70,"y":0.982},{"g":"G","s":"Male","c":"i","x":-65,"y":0.953},{"g":"G","s":"Male","c":"i","x":-60,"y":0.882},{"g":"G","s":"Male","c":"i","x":-55,"y":0.743},{"g":"G","s":"Male","c":"i","x":-50,"y":0.544},{"g":"G","s":"Male","c":"i","x":-45,"y":0.362},{"g":"G","s":"Male","c":"i","x":-40,"y":0.253},{"g":"G","s":"Male","c":"i","x":-35,"y":0.203},{"g":"G","s":"Male","c":"i","x":-30,"y":0.182},{"g":"G","s":"Male","c":"i","x":-25,"y":0.175},{"g":"G","s":"Male","c":"i","x":-20,"y":0.172},{"g":"G","s":"Male","c":"i","x":-10,"y":0.17},{"g":"G","s":"Male","c":"i","x":40,"y":0.17},
{"g":"G","s":"Female","c":"i","x":-80,"y":1.0},{"g":"G","s":"Female","c":"i","x":-75,"y":0.999},{"g":"G","s":"Female","c":"i","x":-70,"y":0.996},{"g":"G","s":"Female","c":"i","x":-65,"y":0.987},{"g":"G","s":"Female","c":"i","x":-60,"y":0.963},{"g":"G","s":"Female","c":"i","x":-55,"y":0.899},{"g":"G","s":"Female","c":"i","x":-50,"y":0.75},{"g":"G","s":"Female","c":"i","x":-45,"y":0.524},{"g":"G","s":"Female","c":"i","x":-40,"y":0.324},{"g":"G","s":"Female","c":"i","x":-35,"y":0.214},{"g":"G","s":"Female","c":"i","x":-30,"y":0.169},{"g":"G","s":"Female","c":"i","x":-25,"y":0.153},{"g":"G","s":"Female","c":"i","x":-20,"y":0.148},{"g":"G","s":"Female","c":"i","x":-10,"y":0.145},{"g":"G","s":"Female","c":"i","x":40,"y":0.145},
{"g":"H","s":"Female","c":"a","x":-80,"y":0.0059},{"g":"H","s":"Female","c":"a","x":-70,"y":0.0114},{"g":"H","s":"Female","c":"a","x":-60,"y":0.0219},{"g":"H","s":"Female","c":"a","x":-50,"y":0.0418},{"g":"H","s":"Female","c":"a","x":-40,"y":0.078},{"g":"H","s":"Female","c":"a","x":-35,"y":0.106},{"g":"H","s":"Female","c":"a","x":-30,"y":0.142},{"g":"H","s":"Female","c":"a","x":-25,"y":0.187},{"g":"H","s":"Female","c":"a","x":-20,"y":0.244},{"g":"H","s":"Female","c":"a","x":-15,"y":0.31},{"g":"H","s":"Female","c":"a","x":-10,"y":0.385},{"g":"H","s":"Female","c":"a","x":-5,"y":0.467},{"g":"H","s":"Female","c":"a","x":0,"y":0.55},{"g":"H","s":"Female","c":"a","x":5,"y":0.63},{"g":"H","s":"Female","c":"a","x":10,"y":0.704},{"g":"H","s":"Female","c":"a","x":15,"y":0.769},{"g":"H","s":"Female","c":"a","x":20,"y":0.822},{"g":"H","s":"Female","c":"a","x":25,"y":0.866},{"g":"H","s":"Female","c":"a","x":30,"y":0.9},{"g":"H","s":"Female","c":"a","x":40,"y":0.946},{"g":"H","s":"Female","c":"a","x":50,"y":0.972},
{"g":"H","s":"OVX","c":"a","x":-80,"y":0.0047},{"g":"H","s":"OVX","c":"a","x":-70,"y":0.0095},{"g":"H","s":"OVX","c":"a","x":-60,"y":0.0193},{"g":"H","s":"OVX","c":"a","x":-50,"y":0.0386},{"g":"H","s":"OVX","c":"a","x":-40,"y":0.0759},{"g":"H","s":"OVX","c":"a","x":-35,"y":0.105},{"g":"H","s":"OVX","c":"a","x":-30,"y":0.144},{"g":"H","s":"OVX","c":"a","x":-25,"y":0.193},{"g":"H","s":"OVX","c":"a","x":-20,"y":0.255},{"g":"H","s":"OVX","c":"a","x":-15,"y":0.329},{"g":"H","s":"OVX","c":"a","x":-10,"y":0.412},{"g":"H","s":"OVX","c":"a","x":-5,"y":0.5},{"g":"H","s":"OVX","c":"a","x":0,"y":0.588},{"g":"H","s":"OVX","c":"a","x":5,"y":0.671},{"g":"H","s":"OVX","c":"a","x":10,"y":0.745},{"g":"H","s":"OVX","c":"a","x":15,"y":0.807},{"g":"H","s":"OVX","c":"a","x":20,"y":0.856},{"g":"H","s":"OVX","c":"a","x":25,"y":0.895},{"g":"H","s":"OVX","c":"a","x":30,"y":0.924},{"g":"H","s":"OVX","c":"a","x":40,"y":0.961},{"g":"H","s":"OVX","c":"a","x":50,"y":0.981},
{"g":"H","s":"Female","c":"i","x":-80,"y":1.0},{"g":"H","s":"Female","c":"i","x":-75,"y":0.999},{"g":"H","s":"Female","c":"i","x":-70,"y":0.996},{"g":"H","s":"Female","c":"i","x":-65,"y":0.987},{"g":"H","s":"Female","c":"i","x":-60,"y":0.962},{"g":"H","s":"Female","c":"i","x":-55,"y":0.898},{"g":"H","s":"Female","c":"i","x":-50,"y":0.749},{"g":"H","s":"Female","c":"i","x":-45,"y":0.522},{"g":"H","s":"Female","c":"i","x":-40,"y":0.32},{"g":"H","s":"Female","c":"i","x":-35,"y":0.209},{"g":"H","s":"Female","c":"i","x":-30,"y":0.164},{"g":"H","s":"Female","c":"i","x":-25,"y":0.148},{"g":"H","s":"Female","c":"i","x":-20,"y":0.143},{"g":"H","s":"Female","c":"i","x":-10,"y":0.14},{"g":"H","s":"Female","c":"i","x":40,"y":0.14},
{"g":"H","s":"OVX","c":"i","x":-80,"y":0.998},{"g":"H","s":"OVX","c":"i","x":-75,"y":0.994},{"g":"H","s":"OVX","c":"i","x":-70,"y":0.982},{"g":"H","s":"OVX","c":"i","x":-65,"y":0.954},{"g":"H","s":"OVX","c":"i","x":-60,"y":0.886},{"g":"H","s":"OVX","c":"i","x":-55,"y":0.752},{"g":"H","s":"OVX","c":"i","x":-50,"y":0.56},{"g":"H","s":"OVX","c":"i","x":-45,"y":0.385},{"g":"H","s":"OVX","c":"i","x":-40,"y":0.28},{"g":"H","s":"OVX","c":"i","x":-35,"y":0.231},{"g":"H","s":"OVX","c":"i","x":-30,"y":0.212},{"g":"H","s":"OVX","c":"i","x":-25,"y":0.204},{"g":"H","s":"OVX","c":"i","x":-20,"y":0.202},{"g":"H","s":"OVX","c":"i","x":-10,"y":0.2},{"g":"H","s":"OVX","c":"i","x":40,"y":0.2}
]
},
"bounds":"flush",
"spacing":54,
"resolve":{"scale":{"fill":"independent"},"legend":{"fill":"independent"}},
"vconcat":[
{"width":499,"height":122,
 "resolve":{"scale":{"x":"independent","y":"independent"}},
 "layer":[
  {"layer":[
   {"data":{"name":"tr"},"transform":[{"filter":"datum.p==='A'"}],"mark":{"type":"line","interpolate":"monotone","strokeWidth":0.7,"color":"#1a1a1a"},
    "encoding":{"x":{"field":"t","type":"quantitative","scale":{"domain":[0,509.375],"range":[0,163],"nice":false,"zero":false},"axis":null},"y":{"field":"v","type":"quantitative","scale":{"domain":[-0.25,6.5278],"nice":false,"zero":false},"axis":null},"detail":{"field":"k","type":"nominal"}}},
   {"data":{"name":"seg"},"transform":[{"filter":"datum.p==='A' && datum.kd==='b'"}],"mark":{"type":"rule","strokeWidth":1.8,"color":"black"},
    "encoding":{"x":{"field":"t","type":"quantitative","axis":null},"x2":{"field":"t2"},"y":{"field":"v","type":"quantitative","axis":null},"y2":{"field":"v2"}}},
   {"data":{"name":"seg"},"transform":[{"filter":"datum.p==='A' && datum.kd==='p'"}],"mark":{"type":"rule","strokeWidth":1.2,"color":"black"},
    "encoding":{"x":{"field":"t","type":"quantitative","axis":null},"x2":{"field":"t2"},"y":{"field":"v","type":"quantitative","axis":null},"y2":{"field":"v2"}}},
   {"data":{"name":"seg"},"transform":[{"filter":"datum.p==='A' && datum.kd==='s'"}],"mark":{"type":"rule","strokeWidth":0.8,"color":"#555555"},
    "encoding":{"x":{"field":"t","type":"quantitative","axis":null},"x2":{"field":"t2"},"y":{"field":"v","type":"quantitative","axis":null},"y2":{"field":"v2"}}},
   {"data":{"name":"seg"},"transform":[{"filter":"datum.p==='A' && datum.kd==='sb'"}],"mark":{"type":"rule","strokeWidth":1,"color":"black"},
    "encoding":{"x":{"field":"t","type":"quantitative","axis":null},"x2":{"field":"t2"},"y":{"field":"v","type":"quantitative","axis":null},"y2":{"field":"v2"}}},
   {"data":{"values":[{}]},"mark":{"type":"text","text":"A","fontStyle":"italic","fontSize":14,"align":"left","baseline":"middle"},"encoding":{"x":{"datum":15.6},"y":{"datum":5.7}}},
   {"data":{"values":[{}]},"mark":{"type":"text","text":"Male","fontSize":11,"align":"left","baseline":"middle"},"encoding":{"x":{"datum":72},"y":{"datum":5.65}}},
   {"data":{"values":[{}]},"mark":{"type":"text","text":"1 nA","fontSize":10.5,"align":"left","baseline":"middle"},"encoding":{"x":{"datum":453},"y":{"datum":2.64}}},
   {"data":{"values":[{}]},"mark":{"type":"text","text":"50 ms","fontSize":10.5,"align":"left","baseline":"middle"},"encoding":{"x":{"datum":437.5},"y":{"datum":1.36}}}
  ]},
  {"layer":[
   {"data":{"name":"tr"},"transform":[{"filter":"datum.p==='B'"}],"mark":{"type":"line","interpolate":"monotone","strokeWidth":0.7,"color":"#1a1a1a"},
    "encoding":{"x":{"field":"t","type":"quantitative","scale":{"domain":[0,487.5],"range":[173,329],"nice":false,"zero":false},"axis":null},"y":{"field":"v","type":"quantitative","scale":{"domain":[-0.111,6.6667],"nice":false,"zero":false},"axis":null},"detail":{"field":"k","type":"nominal"}}},
   {"data":{"name":"seg"},"transform":[{"filter":"datum.p==='B' && datum.kd==='b'"}],"mark":{"type":"rule","strokeWidth":1.8,"color":"black"},
    "encoding":{"x":{"field":"t","type":"quantitative","axis":null},"x2":{"field":"t2"},"y":{"field":"v","type":"quantitative","axis":null},"y2":{"field":"v2"}}},
   {"data":{"name":"seg"},"transform":[{"filter":"datum.p==='B' && datum.kd==='p'"}],"mark":{"type":"rule","strokeWidth":1.2,"color":"black"},
    "encoding":{"x":{"field":"t","type":"quantitative","axis":null},"x2":{"field":"t2"},"y":{"field":"v","type":"quantitative","axis":null},"y2":{"field":"v2"}}},
   {"data":{"name":"seg"},"transform":[{"filter":"datum.p==='B' && datum.kd==='s'"}],"mark":{"type":"rule","strokeWidth":0.8,"color":"#555555"},
    "encoding":{"x":{"field":"t","type":"quantitative","axis":null},"x2":{"field":"t2"},"y":{"field":"v","type":"quantitative","axis":null},"y2":{"field":"v2"}}},
   {"data":{"values":[{}]},"mark":{"type":"text","text":"B","fontStyle":"italic","fontSize":14,"align":"left","baseline":"middle"},"encoding":{"x":{"datum":-47},"y":{"datum":5.83}}},
   {"data":{"values":[{}]},"mark":{"type":"text","text":"Female","fontSize":11,"align":"left","baseline":"middle"},"encoding":{"x":{"datum":9.4},"y":{"datum":5.8}}}
  ]},
  {"layer":[
   {"data":{"name":"tr"},"transform":[{"filter":"datum.p==='C'"}],"mark":{"type":"line","interpolate":"monotone","strokeWidth":0.7,"color":"#1a1a1a"},
    "encoding":{"x":{"field":"t","type":"quantitative","scale":{"domain":[0,500],"range":[339,499],"nice":false,"zero":false},"axis":null},"y":{"field":"v","type":"quantitative","scale":{"domain":[-0.3889,6.3889],"nice":false,"zero":false},"axis":null},"detail":{"field":"k","type":"nominal"}}},
   {"data":{"name":"seg"},"transform":[{"filter":"datum.p==='C' && datum.kd==='b'"}],"mark":{"type":"rule","strokeWidth":1.8,"color":"black"},
    "encoding":{"x":{"field":"t","type":"quantitative","axis":null},"x2":{"field":"t2"},"y":{"field":"v","type":"quantitative","axis":null},"y2":{"field":"v2"}}},
   {"data":{"name":"seg"},"transform":[{"filter":"datum.p==='C' && datum.kd==='p'"}],"mark":{"type":"rule","strokeWidth":1.2,"color":"black"},
    "encoding":{"x":{"field":"t","type":"quantitative","axis":null},"x2":{"field":"t2"},"y":{"field":"v","type":"quantitative","axis":null},"y2":{"field":"v2"}}},
   {"data":{"name":"seg"},"transform":[{"filter":"datum.p==='C' && datum.kd==='s'"}],"mark":{"type":"rule","strokeWidth":0.8,"color":"#555555"},
    "encoding":{"x":{"field":"t","type":"quantitative","axis":null},"x2":{"field":"t2"},"y":{"field":"v","type":"quantitative","axis":null},"y2":{"field":"v2"}}},
   {"data":{"values":[{}]},"mark":{"type":"text","text":"C","fontStyle":"italic","fontSize":14,"align":"left","baseline":"middle"},"encoding":{"x":{"datum":-40.6},"y":{"datum":5.58}}},
   {"data":{"values":[{}]},"mark":{"type":"text","text":"OVX","fontSize":11,"align":"left","baseline":"middle"},"encoding":{"x":{"datum":18.75},"y":{"datum":5.55}}}
  ]}
 ]},
{"width":505,"height":101,
 "resolve":{"scale":{"x":"independent","y":"independent","fill":"independent"},"legend":{"fill":"independent"}},
 "layer":[
  {"layer":[
   {"data":{"name":"iv"},"transform":[{"filter":"datum.pn==='D'"}],"mark":{"type":"line","color":"black","strokeWidth":1},
    "encoding":{"x":{"field":"x","type":"quantitative","scale":{"domain":[-80,80],"range":[0,153],"nice":false,"zero":false},"axis":{"orient":"bottom","values":[-80,-60,-40,-20,0,20,40,60,80],"tickCount":50,"domain":false,"ticks":false,"labelPadding":3,"title":"mV","titlePadding":2,"labelExpr":"replace(datum.label,'\u2212','-')"}},
     "y":{"field":"y","type":"quantitative","scale":{"domain":[0,80],"nice":false,"zero":false},"axis":{"orient":"left","values":[20,40,60,80],"tickCount":50,"offset":-76.5,"tickSize":4,"labelPadding":1,"title":"pA/pF","titlePadding":1}},
     "detail":{"field":"s","type":"nominal"}}},
   {"data":{"name":"iv"},"transform":[{"filter":"datum.pn==='D' && isValid(datum.hi)"}],"mark":{"type":"rule","color":"black","strokeWidth":1},
    "encoding":{"x":{"field":"x","type":"quantitative"},"y":{"field":"lo","type":"quantitative"},"y2":{"field":"hi"}}},
   {"data":{"name":"iv"},"transform":[{"filter":"datum.pn==='D' && isValid(datum.hi)"}],"mark":{"type":"tick","orient":"horizontal","size":5,"thickness":1,"color":"black"},
    "encoding":{"x":{"field":"x","type":"quantitative"},"y":{"field":"hi","type":"quantitative"}}},
   {"data":{"name":"iv"},"transform":[{"filter":"datum.pn==='D' && isValid(datum.hi)"}],"mark":{"type":"tick","orient":"horizontal","size":5,"thickness":1,"color":"black"},
    "encoding":{"x":{"field":"x","type":"quantitative"},"y":{"field":"lo","type":"quantitative"}}},
   {"data":{"name":"iv"},"transform":[{"filter":"datum.pn==='D'"}],"mark":{"type":"point","filled":true,"size":22,"stroke":"black","strokeWidth":1,"opacity":1},
    "encoding":{"x":{"field":"x","type":"quantitative"},"y":{"field":"y","type":"quantitative"},
     "fill":{"field":"s","type":"nominal","scale":{"domain":["male","female"],"range":["white","black"]},
      "legend":{"orient":"none","legendX":-0.5,"legendY":25,"title":null,"symbolType":"M-1.3,0L-0.5,0M0.5,0L1.3,0M0.5,0A0.5,0.5,0,1,1,-0.5,0A0.5,0.5,0,1,1,0.5,0Z","symbolSize":121,"symbolStrokeWidth":1,"symbolStrokeColor":"black","labelOffset":4.5,"rowPadding":0.6,"labelFontSize":11,
       "encode":{"symbols":{"update":{"stroke":{"value":"black"},"strokeWidth":{"value":1},"opacity":{"value":1},"shape":{"value":"M-1.3,0L-0.5,0M0.5,0L1.3,0M0.5,0A0.5,0.5,0,1,1,-0.5,0A0.5,0.5,0,1,1,0.5,0Z"}}}}}}}},
   {"data":{"name":"iv"},"transform":[{"filter":"datum.pn==='D' && datum.st===1"}],"mark":{"type":"text","text":"*","fontSize":11,"baseline":"alphabetic","dy":1},
    "encoding":{"x":{"field":"x","type":"quantitative"},"y":{"field":"hi","type":"quantitative"}}},
   {"data":{"values":[{}]},"mark":{"type":"text","text":"D","fontStyle":"italic","fontSize":14,"align":"left","baseline":"alphabetic"},"encoding":{"x":{"datum":-88.4},"y":{"datum":95}}}
  ]},
  {"layer":[
   {"data":{"name":"iv"},"transform":[{"filter":"datum.pn==='E'"}],"mark":{"type":"line","color":"black","strokeWidth":1},
    "encoding":{"x":{"field":"x","type":"quantitative","scale":{"domain":[-80,80],"range":[178,331],"nice":false,"zero":false},"axis":{"orient":"bottom","values":[-80,-60,-40,-20,0,20,40,60,80],"tickCount":50,"domain":false,"ticks":false,"labelPadding":3,"title":"mV","titlePadding":2,"labelExpr":"replace(datum.label,'\u2212','-')"}},
     "y":{"field":"y","type":"quantitative","scale":{"domain":[0,80],"nice":false,"zero":false},"axis":{"orient":"left","values":[20,40,60,80],"tickCount":50,"offset":-254.5,"tickSize":4,"labelPadding":1,"title":"pA/pF","titlePadding":1}},
     "detail":{"field":"s","type":"nominal"}}},
   {"data":{"name":"iv"},"transform":[{"filter":"datum.pn==='E' && isValid(datum.hi)"}],"mark":{"type":"rule","color":"black","strokeWidth":1},
    "encoding":{"x":{"field":"x","type":"quantitative"},"y":{"field":"lo","type":"quantitative"},"y2":{"field":"hi"}}},
   {"data":{"name":"iv"},"transform":[{"filter":"datum.pn==='E' && isValid(datum.hi)"}],"mark":{"type":"tick","orient":"horizontal","size":5,"thickness":1,"color":"black"},
    "encoding":{"x":{"field":"x","type":"quantitative"},"y":{"field":"hi","type":"quantitative"}}},
   {"data":{"name":"iv"},"transform":[{"filter":"datum.pn==='E' && isValid(datum.hi)"}],"mark":{"type":"tick","orient":"horizontal","size":5,"thickness":1,"color":"black"},
    "encoding":{"x":{"field":"x","type":"quantitative"},"y":{"field":"lo","type":"quantitative"}}},
   {"data":{"name":"iv"},"transform":[{"filter":"datum.pn==='E'"}],"mark":{"type":"point","filled":true,"size":22,"stroke":"black","strokeWidth":1,"opacity":1},
    "encoding":{"x":{"field":"x","type":"quantitative"},"y":{"field":"y","type":"quantitative"},
     "fill":{"field":"s","type":"nominal","scale":{"domain":["female","OVX"],"range":["black","white"]},
      "legend":{"orient":"none","legendX":175.5,"legendY":9.5,"title":null,"symbolType":"M-1.3,0L-0.5,0M0.5,0L1.3,0M0.5,0A0.5,0.5,0,1,1,-0.5,0A0.5,0.5,0,1,1,0.5,0Z","symbolSize":121,"symbolStrokeWidth":1,"symbolStrokeColor":"black","labelOffset":4.5,"rowPadding":3,"labelFontSize":11,
       "encode":{"symbols":{"update":{"stroke":{"value":"black"},"strokeWidth":{"value":1},"opacity":{"value":1},"shape":{"value":"M-1.3,0L-0.5,0M0.5,0L1.3,0M0.5,0A0.5,0.5,0,1,1,-0.5,0A0.5,0.5,0,1,1,0.5,0Z"}}}}}}}},
   {"data":{"name":"iv"},"transform":[{"filter":"datum.pn==='E' && datum.st===1"}],"mark":{"type":"text","text":"*","fontSize":11,"baseline":"alphabetic","dy":1},
    "encoding":{"x":{"field":"x","type":"quantitative"},"y":{"field":"hi","type":"quantitative"}}},
   {"data":{"values":[{}]},"mark":{"type":"text","text":"E","fontStyle":"italic","fontSize":14,"align":"left","baseline":"alphabetic"},"encoding":{"x":{"datum":-100.9},"y":{"datum":95}}}
  ]},
  {"layer":[
   {"data":{"name":"iv"},"transform":[{"filter":"datum.pn==='F'"}],"mark":{"type":"line","color":"black","strokeWidth":1},
    "encoding":{"x":{"field":"x","type":"quantitative","scale":{"domain":[-80,80],"range":[351,505],"nice":false,"zero":false},"axis":{"orient":"bottom","values":[-80,-60,-40,-20,0,20,40,60,80],"tickCount":50,"domain":false,"ticks":false,"labelPadding":3,"title":"mV","titlePadding":2,"labelExpr":"replace(datum.label,'\u2212','-')"}},
     "y":{"field":"y","type":"quantitative","scale":{"domain":[0,80],"nice":false,"zero":false},"axis":{"orient":"left","values":[20,40,60,80],"tickCount":50,"offset":-428,"tickSize":4,"labelPadding":1,"title":"pA/pF","titlePadding":1}},
     "detail":{"field":"s","type":"nominal"}}},
   {"data":{"name":"iv"},"transform":[{"filter":"datum.pn==='F' && isValid(datum.hi)"}],"mark":{"type":"rule","color":"black","strokeWidth":1},
    "encoding":{"x":{"field":"x","type":"quantitative"},"y":{"field":"lo","type":"quantitative"},"y2":{"field":"hi"}}},
   {"data":{"name":"iv"},"transform":[{"filter":"datum.pn==='F' && isValid(datum.hi)"}],"mark":{"type":"tick","orient":"horizontal","size":5,"thickness":1,"color":"black"},
    "encoding":{"x":{"field":"x","type":"quantitative"},"y":{"field":"hi","type":"quantitative"}}},
   {"data":{"name":"iv"},"transform":[{"filter":"datum.pn==='F' && isValid(datum.hi)"}],"mark":{"type":"tick","orient":"horizontal","size":5,"thickness":1,"color":"black"},
    "encoding":{"x":{"field":"x","type":"quantitative"},"y":{"field":"lo","type":"quantitative"}}},
   {"data":{"name":"iv"},"transform":[{"filter":"datum.pn==='F'"}],"mark":{"type":"point","filled":true,"size":22,"stroke":"black","strokeWidth":1,"opacity":1},
    "encoding":{"x":{"field":"x","type":"quantitative"},"y":{"field":"y","type":"quantitative"},
     "fill":{"field":"s","type":"nominal","scale":{"domain":["male","OVX"],"range":["white","black"]},
      "legend":{"orient":"none","legendX":357.5,"legendY":10.5,"title":null,"symbolType":"M-1.3,0L-0.5,0M0.5,0L1.3,0M0.5,0A0.5,0.5,0,1,1,-0.5,0A0.5,0.5,0,1,1,0.5,0Z","symbolSize":121,"symbolStrokeWidth":1,"symbolStrokeColor":"black","labelOffset":6.5,"rowPadding":-1,"labelFontSize":11,
       "encode":{"symbols":{"update":{"stroke":{"value":"black"},"strokeWidth":{"value":1},"opacity":{"value":1},"shape":{"value":"M-1.3,0L-0.5,0M0.5,0L1.3,0M0.5,0A0.5,0.5,0,1,1,-0.5,0A0.5,0.5,0,1,1,0.5,0Z"}}}}}}}},
   {"data":{"values":[{}]},"mark":{"type":"text","text":"F","fontStyle":"italic","fontSize":14,"align":"left","baseline":"alphabetic"},"encoding":{"x":{"datum":-106},"y":{"datum":95}}}
  ]}
 ]},
{"width":483,"height":122,
 "resolve":{"scale":{"x":"independent","y":"independent","fill":"independent"},"legend":{"fill":"independent"}},
 "layer":[
  {"resolve":{"scale":{"y":"independent"}},
   "layer":[
   {"layer":[
    {"data":{"name":"fit"},"transform":[{"filter":"datum.g==='G' && datum.c==='a'"}],"mark":{"type":"line","interpolate":"monotone","color":"black","strokeWidth":0.8},
     "encoding":{"x":{"field":"x","type":"quantitative","scale":{"domain":[-80,60],"range":[33,218],"nice":false,"zero":false},"axis":{"orient":"bottom","values":[-80,-60,-40,-20,0,20,40,60],"tickCount":50,"tickSize":4,"labelPadding":2,"title":"mV","titlePadding":3,"labelExpr":"replace(datum.label,'\u2212','-')"}},
      "y":{"field":"y","type":"quantitative","scale":{"domain":[0,1.2],"nice":false,"zero":false},"axis":{"orient":"left","values":[0,0.2,0.4,0.6,0.8,1,1.2],"tickCount":50,"format":".1f","offset":-33,"tickSize":4,"labelPadding":2,"title":"G/G\u2098\u2090\u2093","titlePadding":2}},
      "detail":{"field":"s","type":"nominal"}}},
    {"data":{"name":"gh"},"transform":[{"filter":"datum.g==='G' && datum.c==='a'"}],"mark":{"type":"point","filled":true,"size":36,"stroke":"black","strokeWidth":1,"opacity":1},
     "encoding":{"x":{"field":"x","type":"quantitative"},"y":{"field":"y","type":"quantitative"},
      "fill":{"field":"s","type":"nominal","scale":{"domain":["Male","Female"],"range":["white","black"]},
       "legend":{"orient":"none","legendX":82.4,"legendY":0.2,"title":null,"symbolType":"circle","symbolSize":40,"labelOffset":12.5,"rowPadding":6.3,"labelFontSize":11,"encode":{"symbols":{"update":{"stroke":{"value":"black"},"strokeWidth":{"value":1},"opacity":{"value":1}}}}}}}}
   ]},
   {"layer":[
    {"data":{"name":"fit"},"transform":[{"filter":"datum.g==='G' && datum.c==='i'"}],"mark":{"type":"line","interpolate":"monotone","color":"black","strokeWidth":0.8},
     "encoding":{"x":{"field":"x","type":"quantitative"},
      "y":{"field":"y","type":"quantitative","scale":{"domain":[0,1.2],"nice":false,"zero":false},"axis":{"orient":"right","offset":-265,"values":[0,0.2,0.4,0.6,0.8,1,1.2],"tickCount":50,"format":".1f","tickSize":4,"labelPadding":2,"title":"I/I\u2098\u2090\u2093","titlePadding":2,"titleAngle":270,"titleBaseline":"top"}},
      "detail":{"field":"s","type":"nominal"}}},
    {"data":{"name":"gh"},"transform":[{"filter":"datum.g==='G' && datum.c==='i' && isValid(datum.hi)"}],"mark":{"type":"rule","color":"black","strokeWidth":1},
     "encoding":{"x":{"field":"x","type":"quantitative"},"y":{"field":"lo","type":"quantitative"},"y2":{"field":"hi"}}},
    {"data":{"name":"gh"},"transform":[{"filter":"datum.g==='G' && datum.c==='i' && isValid(datum.hi)"}],"mark":{"type":"tick","orient":"horizontal","size":5,"thickness":1,"color":"black"},
     "encoding":{"x":{"field":"x","type":"quantitative"},"y":{"field":"hi","type":"quantitative"}}},
    {"data":{"name":"gh"},"transform":[{"filter":"datum.g==='G' && datum.c==='i'"}],"mark":{"type":"point","filled":true,"size":36,"stroke":"black","strokeWidth":1,"opacity":1},
     "encoding":{"x":{"field":"x","type":"quantitative"},"y":{"field":"y","type":"quantitative"},
      "fill":{"field":"s","type":"nominal","scale":{"domain":["Male","Female"],"range":["white","black"]},
       "legend":{"orient":"none","legendX":82.4,"legendY":0.2,"title":null,"symbolType":"circle","symbolSize":40,"labelOffset":12.5,"rowPadding":6.3,"labelFontSize":11,"encode":{"symbols":{"update":{"stroke":{"value":"black"},"strokeWidth":{"value":1},"opacity":{"value":1}}}}}}}},
    {"data":{"values":[{}]},"mark":{"type":"text","text":"G","fontStyle":"italic","fontSize":14,"align":"left","baseline":"alphabetic"},"encoding":{"x":{"datum":-111.6},"y":{"datum":1.338}}}
   ]}
  ]},
  {"resolve":{"scale":{"y":"independent"}},
   "layer":[
   {"layer":[
    {"data":{"name":"fit"},"transform":[{"filter":"datum.g==='H' && datum.c==='a'"}],"mark":{"type":"line","interpolate":"monotone","color":"black","strokeWidth":0.8},
     "encoding":{"x":{"field":"x","type":"quantitative","scale":{"domain":[-80,60],"range":[297,483],"nice":false,"zero":false},"axis":{"orient":"bottom","values":[-80,-60,-40,-20,0,20,40,60],"tickCount":50,"tickSize":4,"labelPadding":2,"title":"mV","titlePadding":3,"labelExpr":"replace(datum.label,'\u2212','-')"}},
      "y":{"field":"y","type":"quantitative","scale":{"domain":[0,1.2],"nice":false,"zero":false},"axis":{"orient":"left","values":[0,0.2,0.4,0.6,0.8,1,1.2],"tickCount":50,"format":".1f","offset":-297,"tickSize":4,"labelPadding":2,"title":"G/G\u2098\u2090\u2093","titlePadding":2}},
      "detail":{"field":"s","type":"nominal"}}},
    {"data":{"name":"gh"},"transform":[{"filter":"datum.g==='H' && datum.c==='a' && isValid(datum.hi)"}],"mark":{"type":"rule","color":"black","strokeWidth":1},
     "encoding":{"x":{"field":"x","type":"quantitative"},"y":{"field":"lo","type":"quantitative"},"y2":{"field":"hi"}}},
    {"data":{"name":"gh"},"transform":[{"filter":"datum.g==='H' && datum.c==='a' && isValid(datum.hi)"}],"mark":{"type":"tick","orient":"horizontal","size":5,"thickness":1,"color":"black"},
     "encoding":{"x":{"field":"x","type":"quantitative"},"y":{"field":"hi","type":"quantitative"}}},
    {"data":{"name":"gh"},"transform":[{"filter":"datum.g==='H' && datum.c==='a'"}],"mark":{"type":"point","filled":true,"size":36,"stroke":"black","strokeWidth":1,"opacity":1},
     "encoding":{"x":{"field":"x","type":"quantitative"},"y":{"field":"y","type":"quantitative"},
      "fill":{"field":"s","type":"nominal","scale":{"domain":["Female","OVX"],"range":["white","black"]},
       "legend":{"orient":"none","legendX":343.4,"legendY":-0.8,"title":null,"symbolType":"circle","symbolSize":40,"labelOffset":8.5,"rowPadding":7,"labelFontSize":11,"encode":{"symbols":{"update":{"stroke":{"value":"black"},"strokeWidth":{"value":1},"opacity":{"value":1}}}}}}}}
   ]},
   {"layer":[
    {"data":{"name":"fit"},"transform":[{"filter":"datum.g==='H' && datum.c==='i'"}],"mark":{"type":"line","interpolate":"monotone","color":"black","strokeWidth":0.8},
     "encoding":{"x":{"field":"x","type":"quantitative"},
      "y":{"field":"y","type":"quantitative","scale":{"domain":[0,1.2],"nice":false,"zero":false},"axis":{"orient":"right","offset":0,"values":[0,0.2,0.4,0.6,0.8,1,1.2],"tickCount":50,"format":".1f","tickSize":4,"labelPadding":2,"title":"I/I\u2098\u2090\u2093","titlePadding":2,"titleAngle":270,"titleBaseline":"top"}},
      "detail":{"field":"s","type":"nominal"}}},
    {"data":{"name":"gh"},"transform":[{"filter":"datum.g==='H' && datum.c==='i' && isValid(datum.hi)"}],"mark":{"type":"rule","color":"black","strokeWidth":1},
     "encoding":{"x":{"field":"x","type":"quantitative"},"y":{"field":"lo","type":"quantitative"},"y2":{"field":"hi"}}},
    {"data":{"name":"gh"},"transform":[{"filter":"datum.g==='H' && datum.c==='i' && isValid(datum.hi)"}],"mark":{"type":"tick","orient":"horizontal","size":5,"thickness":1,"color":"black"},
     "encoding":{"x":{"field":"x","type":"quantitative"},"y":{"field":"hi","type":"quantitative"}}},
    {"data":{"name":"gh"},"transform":[{"filter":"datum.g==='H' && datum.c==='i'"}],"mark":{"type":"point","filled":true,"size":36,"stroke":"black","strokeWidth":1,"opacity":1},
     "encoding":{"x":{"field":"x","type":"quantitative"},"y":{"field":"y","type":"quantitative"},
      "fill":{"field":"s","type":"nominal","scale":{"domain":["Female","OVX"],"range":["white","black"]},
       "legend":{"orient":"none","legendX":343.4,"legendY":-0.8,"title":null,"symbolType":"circle","symbolSize":40,"labelOffset":8.5,"rowPadding":7,"labelFontSize":11,"encode":{"symbols":{"update":{"stroke":{"value":"black"},"strokeWidth":{"value":1},"opacity":{"value":1}}}}}}}},
    {"data":{"values":[{}]},"mark":{"type":"text","text":"H","fontStyle":"italic","fontSize":14,"align":"left","baseline":"alphabetic"},"encoding":{"x":{"datum":-108.1},"y":{"datum":1.318}}}
   ]}
  ]}
 ]}
]
}
